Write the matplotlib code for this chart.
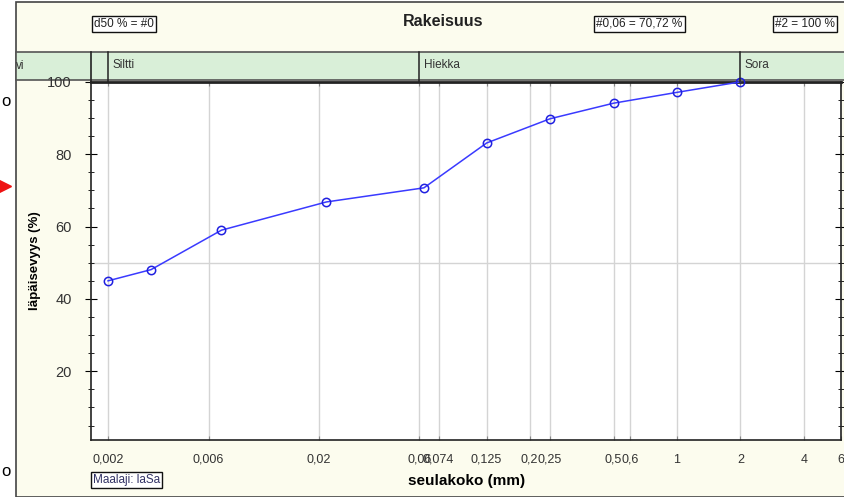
import matplotlib
matplotlib.use("Agg")
import matplotlib.pyplot as plt
from matplotlib.patches import Rectangle
from matplotlib.lines import Line2D

plt.rcParams['font.family'] = ['Liberation Sans', 'DejaVu Sans']

# ---- data ----
sieve_mm = [0.002, 0.0032, 0.0069, 0.0217, 0.063, 0.125, 0.25, 0.5, 1.0, 2.0]
passing = [45.0, 48.1, 59.0, 66.8, 70.7, 83.1, 89.8, 94.1, 97.1, 100.0]
xtick_vals = [0.002, 0.006, 0.02, 0.06, 0.074, 0.125, 0.2, 0.25, 0.5, 0.6, 1, 2, 4, 6]
xtick_labels = ["0,002", "0,006", "0,02", "0,06", "0,074", "0,125", "0,2", "0,25",
                "0,5", "0,6", "1", "2", "4", "6"]
band_names = ["Siltti", "Hiekka", "Sora"]
band_bounds = [0.002, 0.06, 2.0]

W, H = 845, 497
fig = plt.figure(figsize=(W / 100, H / 100), dpi=100, facecolor='white')

def fx(px):
    return px / W

def fy(py):
    return 1 - py / H

bg = '#fcfcee'
# overall frame background
fig.patches.append(Rectangle((fx(16), 0), 1 - fx(16), fy(2), transform=fig.transFigure,
                             facecolor=bg, edgecolor='#444444', lw=1.2, zorder=-5))
# green band
fig.patches.append(Rectangle((fx(16), fy(80)), 1 - fx(16), fy(52) - fy(80), transform=fig.transFigure,
                             facecolor='#d9efd8', edgecolor='#555555', lw=1.2, zorder=-4))

ax = fig.add_axes([fx(91), fy(440), fx(841) - fx(91), fy(81.5) - fy(440)])
ax.set_zorder(2)
ax.set_facecolor('white')
ax.set_xscale('log')
ax.set_xlim(0.00166, 6.0)
ax.set_ylim(1.0, 100.1)

# grid
for xv in xtick_vals:
    ax.axvline(xv, color='#d4d4d4', lw=1, zorder=1)
ax.axhline(50, color='#d4d4d4', lw=1, zorder=1)

ax.plot(sieve_mm, passing, color='#3a3aff', lw=1.1, marker='o', markersize=6,
        markerfacecolor='none', markeredgecolor='#2020e0', markeredgewidth=1.1, zorder=3,
        clip_on=False)

ax.set_xticks(xtick_vals)
ax.set_xticklabels(xtick_labels)
ax.xaxis.set_minor_locator(matplotlib.ticker.NullLocator())
ax.tick_params(axis='x', which='both', length=0, pad=10, labelsize=9, labelcolor='#333333')
ax.tick_params(axis='x', top=True, length=3, direction='in', color='#888888')

ax.set_yticks([20, 40, 60, 80, 100])
ax.set_yticks(range(5, 101, 5), minor=True)
ax.tick_params(axis='y', which='major', length=8, direction='inout', labelsize=10.5,
               labelcolor='#333333', pad=10, right=True)
ax.tick_params(axis='y', which='minor', length=5, direction='inout', right=True)
for sp in ax.spines.values():
    sp.set_color('#222222')
    sp.set_linewidth(1.2)
ax.spines['top'].set_linewidth(2)

ax.set_ylabel('läpäisevyys (%)', fontsize=9.5, fontweight='bold')
ax.set_xlabel('seulakoko (mm)', fontsize=11, fontweight='bold')
ax.xaxis.set_label_coords(0.501, -0.094)
ax.yaxis.set_label_coords(-0.066, 0.5)

# band boundaries and labels
xt = ax.get_xaxis_transform()
band_top = (440 - 52) / (440 - 81.5)
for xb, name in zip(band_bounds, band_names):
    ax.plot([xb, xb], [1.0, band_top], transform=xt, color='#222222', lw=1.1, clip_on=False, zorder=4)
    ax.annotate(name, xy=(xb, (1 + band_top) / 2 + 0.005), xycoords=xt, xytext=(3, 0),
                textcoords='offset points', fontsize=8.5, color='#333333', va='center', ha='left',
                annotation_clip=False)
ax.plot([0, 0], [1.0, band_top], transform=ax.transAxes, color='#222222', lw=1.2, clip_on=False)
fig.text(fx(16), fy(66), 'vi', fontsize=8.5, color='#333333', va='center', ha='left')

# title and info boxes
fig.text(fx(443), fy(22), 'Rakeisuus', fontsize=11.5, fontweight='bold', ha='center', va='center', color='#222222')
box = dict(boxstyle='square,pad=0.2', facecolor='white', edgecolor='#111111', lw=1)
fig.text(fx(94), fy(24), 'd50 % = #0', fontsize=8.5, ha='left', va='center', bbox=box, color='#222222')
fig.text(fx(596), fy(24), '#0,06 = 70,72 %', fontsize=8.5, ha='left', va='center', bbox=box, color='#222222')
fig.text(fx(775), fy(24), '#2 = 100 %', fontsize=8.5, ha='left', va='center', bbox=box, color='#222222')
fig.text(fx(93), fy(480), 'Maalaji: laSa', fontsize=8.5, ha='left', va='center', bbox=box, color='#333366')

# artifacts left of the frame
fig.text(fx(1), fy(101), 'o', fontsize=12, ha='left', va='center', color='black')
fig.text(fx(1), fy(471), 'o', fontsize=12, ha='left', va='center', color='black')
fig.lines.append(Line2D([fx(5)], [fy(186)], marker='>', markersize=9, color='#ee1111',
                        transform=fig.transFigure))

fig.savefig('out.png', dpi=100, facecolor=fig.get_facecolor())
